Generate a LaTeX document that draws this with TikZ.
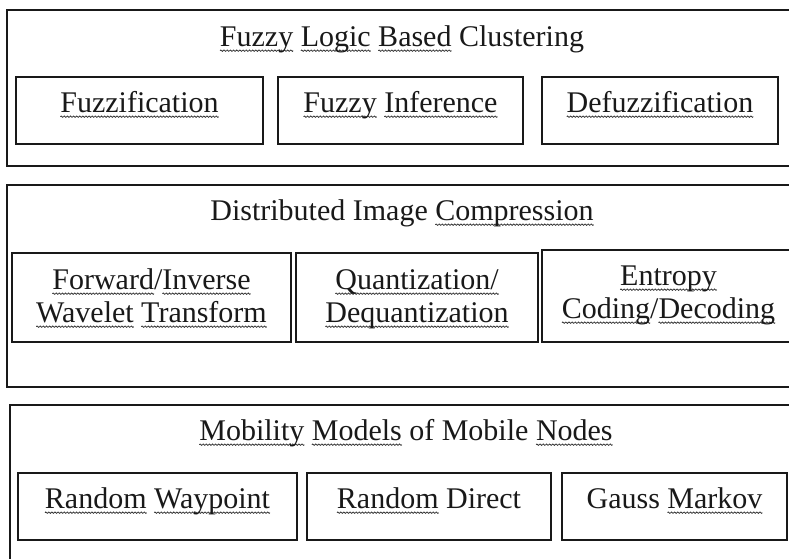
\documentclass[tikz,border=0pt]{standalone}
\usepackage{fontspec}
\setmainfont{Liberation Serif}
\usetikzlibrary{positioning}

% wavy underline, built from one small wave tile
\newsavebox{\wavebox}
\newsavebox{\wvword}
\newcommand{\wv}[1]{\sbox\wvword{#1}\rlap{\raisebox{-3.9pt}[0pt][0pt]{\hbox to \wd\wvword{\xleaders\copy\wavebox\hfil}}}\usebox\wvword}

\begin{document}
\sbox\wavebox{\begin{pgfpicture}
  \pgfsetstrokecolor{black!80}\pgfsetlinewidth{0.6pt}
  \pgfpathmoveto{\pgfpoint{0pt}{0pt}}
  \pgfpathsine{\pgfpoint{0.575pt}{0.5pt}}\pgfpathcosine{\pgfpoint{0.575pt}{-0.5pt}}
  \pgfpathsine{\pgfpoint{0.575pt}{-0.5pt}}\pgfpathcosine{\pgfpoint{0.575pt}{0.5pt}}
  \pgfusepath{stroke}
  \pgfresetboundingbox
  \pgfpathrectangle{\pgfpoint{0pt}{-0.4pt}}{\pgfpoint{2.3pt}{0.8pt}}
  \pgfusepath{use as bounding box}
\end{pgfpicture}}%
\begin{tikzpicture}[x=0.75pt,y=-0.75pt,
  frame/.style={draw=black!90,line width=1.4pt},
  box/.style={draw=black!90,line width=1.4pt},
  lbl/.style={font=\fontsize{22.5}{24.75}\selectfont,text=black!90,align=center,anchor=base,inner sep=0pt}]
\clip (0,0) rectangle (789,558);
% three layers, cut off on the right (and at the bottom)
\draw[frame] (800,10) -- (7,10) -- (7,166) -- (800,166);
\draw[frame] (800,185) -- (7,185) -- (7,387) -- (800,387);
\draw[frame] (800,405) -- (10,405) -- (10,570);
% fuzzy logic layer
\node[lbl] (fuzzyT) at (402,46) {\wv{Fuzzy} \wv{Logic} \wv{Based} Clustering};
\draw[box] (16,77) rectangle (263,144); \draw[box] (278,77) rectangle (523,144); \draw[box] (542,77) rectangle (778,144);
\node[lbl] (fuzzif) at (139.5,112) {\wv{Fuzzification}};
\node[lbl] (infer) at (400.5,112) {\wv{Fuzzy} \wv{Inference}};
\node[lbl] (defuzz) at (660,112) {\wv{Defuzzification}};
% compression layer
\node[lbl] (compT) at (402,220) {Distributed Image \wv{Compression}};
\draw[box] (12,253) rectangle (291,342); \draw[box] (296,253) rectangle (538,342); \draw[box] (542,250) rectangle (800,342);
\node[lbl] (wavelet) at (151.5,322) {\wv{Forward}/\wv{Inverse}\\ \wv{Wavelet} \wv{Transform}};
\node[lbl] (quant) at (417,322) {\wv{Quantization/}\\ \wv{Dequantization}};
\node[lbl] (entropy) at (668.5,318) {\wv{Entropy}\\ \wv{Coding}/\wv{Decoding}};
% mobility layer
\node[lbl] (mobT) at (406,440) {\wv{Mobility} \wv{Models} of Mobile \wv{Nodes}};
\draw[box] (18,473) rectangle (297,540); \draw[box] (307,473) rectangle (551,540); \draw[box] (562,473) rectangle (787,540);
\node[lbl] (rwp) at (157.5,508) {\wv{Random} \wv{Waypoint}};
\node[lbl] (rdir) at (429,508) {\wv{Random} Direct};
\node[lbl] (gauss) at (674.5,508) {Gauss \wv{Markov}};
\end{tikzpicture}
\end{document}
